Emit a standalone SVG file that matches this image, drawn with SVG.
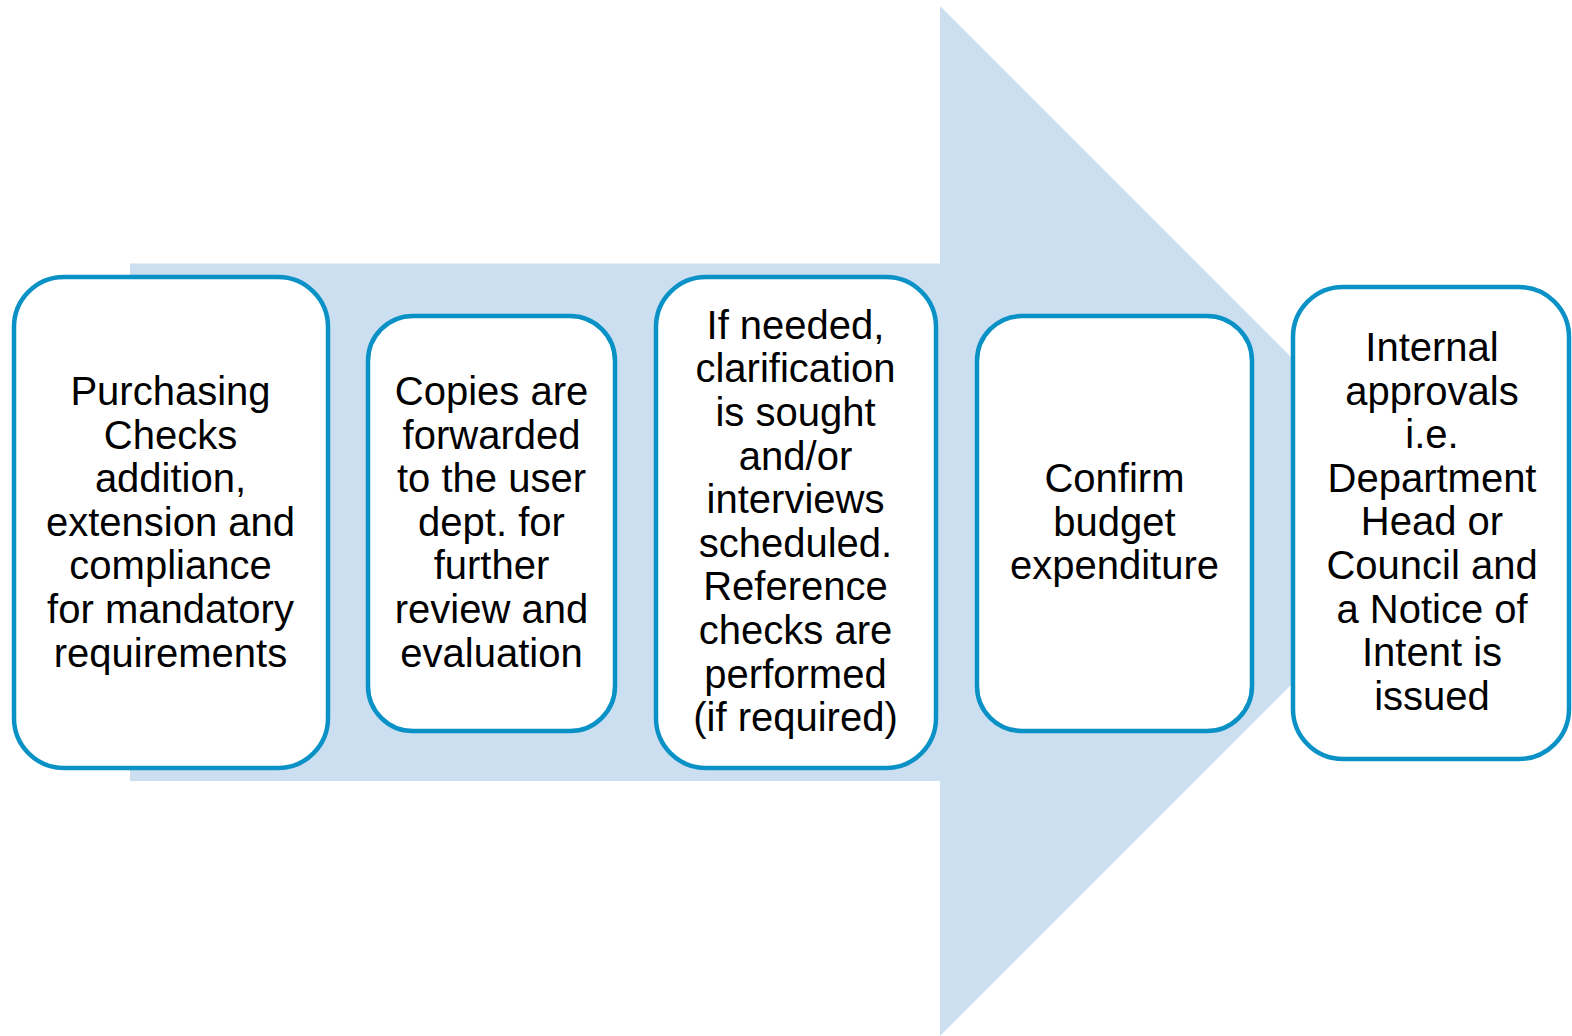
<svg xmlns="http://www.w3.org/2000/svg" width="1572" height="1036" viewBox="0 0 1572 1036">
  <style>
    .step { fill: #ffffff; stroke: #0A92C6; stroke-width: 4.5; }
    .label { font-family: "Liberation Sans", Arial, sans-serif; font-size: 40px; fill: #000000; text-anchor: middle; }
    .band { fill: #CCDFF1; }
  </style>

  <!-- background process arrow -->
  <g id="connectors">
    <path class="band" d="M130 263.5 H940 V6 L1455 521 L940 1036 V781 H130 Z"/>
  </g>

  <g id="step1">
    <rect class="step" x="14" y="277" width="314" height="491" rx="50" ry="50"/>
    <text class="label"><tspan x="170.5" y="405">Purchasing</tspan><tspan x="170.5" y="448.6">Checks</tspan><tspan x="170.5" y="492.2">addition,</tspan><tspan x="170.5" y="535.8">extension and</tspan><tspan x="170.5" y="579.4">compliance</tspan><tspan x="170.5" y="623">for mandatory</tspan><tspan x="170.5" y="666.6">requirements</tspan></text>
  </g>

  <g id="step2">
    <rect class="step" x="368" y="316" width="247" height="415" rx="45" ry="45"/>
    <text class="label"><tspan x="491.5" y="405">Copies are</tspan><tspan x="491.5" y="448.6">forwarded</tspan><tspan x="491.5" y="492.2">to the user</tspan><tspan x="491.5" y="535.8">dept. for</tspan><tspan x="491.5" y="579.4">further</tspan><tspan x="491.5" y="623">review and</tspan><tspan x="491.5" y="666.6">evaluation</tspan></text>
  </g>

  <g id="step3">
    <rect class="step" x="656" y="277" width="280" height="491" rx="50" ry="50"/>
    <text class="label"><tspan x="795.5" y="338.8">If needed,</tspan><tspan x="795.5" y="382.4">clarification</tspan><tspan x="795.5" y="426">is sought</tspan><tspan x="795.5" y="469.6">and/or</tspan><tspan x="795.5" y="513.2">interviews</tspan><tspan x="795.5" y="556.8">scheduled.</tspan><tspan x="795.5" y="600.4">Reference</tspan><tspan x="795.5" y="644">checks are</tspan><tspan x="795.5" y="687.6">performed</tspan><tspan x="795.5" y="731.2">(if required)</tspan></text>
  </g>

  <g id="step4">
    <rect class="step" x="977" y="316" width="275" height="415" rx="45" ry="45"/>
    <text class="label"><tspan x="1114.5" y="492.2">Confirm</tspan><tspan x="1114.5" y="535.8">budget</tspan><tspan x="1114.5" y="579.4">expenditure</tspan></text>
  </g>

  <g id="step5">
    <rect class="step" x="1293" y="287" width="276" height="472" rx="50" ry="50"/>
    <text class="label"><tspan x="1432" y="361">Internal</tspan><tspan x="1432" y="404.6">approvals</tspan><tspan x="1432" y="448.2">i.e.</tspan><tspan x="1432" y="491.8">Department</tspan><tspan x="1432" y="535.4">Head or</tspan><tspan x="1432" y="579">Council and</tspan><tspan x="1432" y="622.6">a Notice of</tspan><tspan x="1432" y="666.2">Intent is</tspan><tspan x="1432" y="709.8">issued</tspan></text>
  </g>
</svg>
